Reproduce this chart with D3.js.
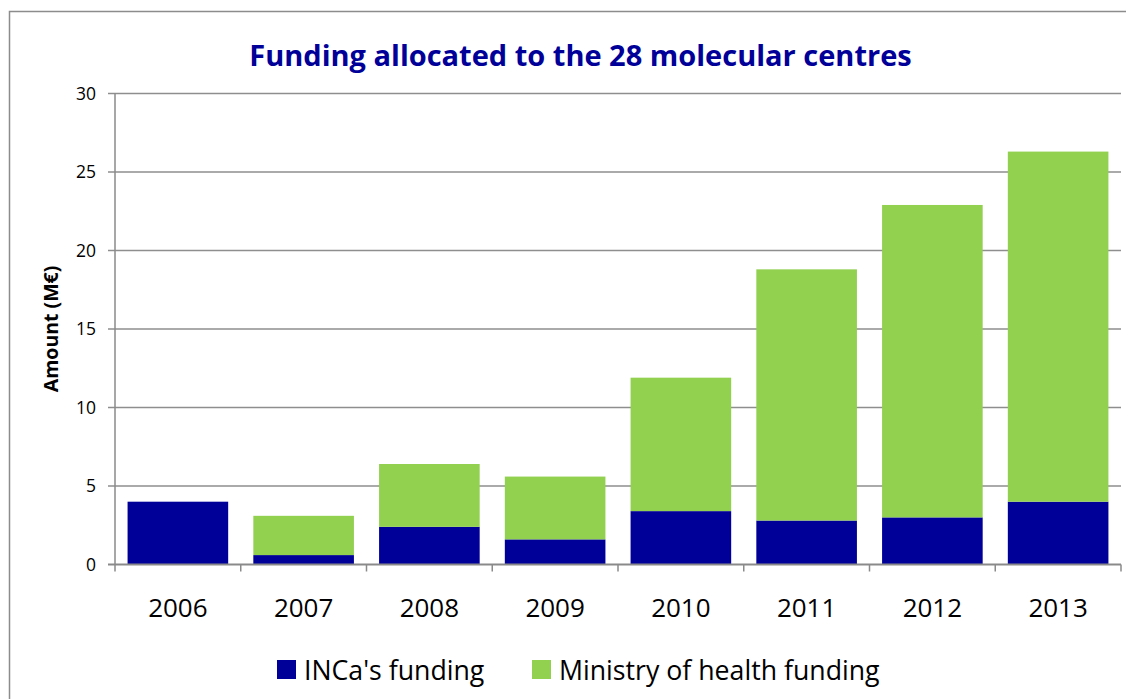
<!DOCTYPE html>
<html>
<head>
<meta charset="utf-8">
<script src="https://cdn.jsdelivr.net/npm/d3@7"></script>
<style>
body{margin:0;background:#fff;}
text{font-family:"Open Sans",sans-serif;}
</style>
</head>
<body>
<div id="root"></div>
<script>
// data (M€)
var years=['2006','2007','2008','2009','2010','2011','2012','2013'];
var incaFunding=[4.0,0.6,2.4,1.6,3.4,2.8,3.0,4.0];
var ministryFunding=[0,2.5,4.0,4.0,8.5,16.0,19.9,22.3];
var yTicks=[0,5,10,15,20,25,30];
var seriesNames=["INCa's funding","Ministry of health funding"];
var seriesColors=['#000099','#92D050'];

var width=1126, height=699;
var margin={t:93.5, r:5, b:134.5, l:115};

var svg=d3.select('#root').append('svg')
    .attr('width',width)
    .attr('height',height);

// outer frame (only top and left visible)
svg.append('path')
    .attr('d','M9.5,'+height+'V11.5H'+width)
    .attr('fill','none')
    .attr('stroke','#8c8c8c')
    .attr('stroke-width',1.5);

var rows=years.map(function(y,i){return {year:y,inca:incaFunding[i],ministry:ministryFunding[i]}});

var xScale=d3.scaleBand()
    .domain(years)
    .range([margin.l,width-margin.r])
    .paddingInner(0.2)
    .paddingOuter(0.1);

var yScale=d3.scaleLinear()
    .domain([0,30])
    .range([height-margin.b,margin.t]);

//gridlines
svg.append('g').selectAll('line')
    .data(yTicks.filter(function(d){return d>0}))
    .enter().append('line')
    .attr('x1',margin.l-7)
    .attr('x2',width-margin.r)
    .attr('y1',function(d){return yScale(d)})
    .attr('y2',function(d){return yScale(d)})
    .attr('stroke','#8e8e8e')
    .attr('stroke-width',1.5);

//y labels
svg.append('g').selectAll('text')
    .data(yTicks).enter().append('text')
    .attr('x',margin.l-19)
    .attr('y',function(d){return yScale(d)})
    .attr('dy','0.35em')
    .attr('text-anchor','end')
    .attr('font-size',17.5)
    .attr('fill','#000')
    .text(function(d){return d});

//stacked bars
var stack=d3.stack().keys(['inca','ministry']);
var stackData=stack(rows);

svg.append('g').selectAll('g')
    .data(stackData).enter().append('g')
    .attr('fill',function(d,i){return seriesColors[i]})
    .selectAll('rect').data(function(d){return d}).enter()
    .append('rect')
    .attr('x',function(d){return xScale(d.data.year)})
    .attr('y',function(d){return yScale(d[1])})
    .attr('width',xScale.bandwidth())
    .attr('height',function(d){return yScale(d[0])-yScale(d[1])});

//axes lines
var y0=yScale(0);
svg.append('line')
    .attr('x1',margin.l).attr('x2',margin.l)
    .attr('y1',margin.t).attr('y2',y0)
    .attr('stroke','#8a8a8a').attr('stroke-width',1.5);
svg.append('line')
    .attr('x1',margin.l-7).attr('x2',width-margin.r)
    .attr('y1',y0).attr('y2',y0)
    .attr('stroke','#8a8a8a').attr('stroke-width',2);

// x ticks at category boundaries
var step=xScale.step();
var bounds=d3.range(years.length+1).map(function(i){return margin.l+i*step});
svg.append('g').selectAll('line')
    .data(bounds).enter().append('line')
    .attr('x1',function(d){return d}).attr('x2',function(d){return d})
    .attr('y1',y0).attr('y2',y0+7)
    .attr('stroke','#8a8a8a').attr('stroke-width',1.5);

svg.append('g').selectAll('text')
    .data(years).enter().append('text')
    .attr('x',function(d){return xScale(d)+xScale.bandwidth()/2})
    .attr('y',617)
    .attr('text-anchor','middle')
    .attr('font-size',26)
    .attr('fill','#000')
    .text(function(d){return d});

//title
svg.append('text')
    .attr('x',580.5)
    .attr('y',66)
    .attr('text-anchor','middle')
    .attr('font-size',29)
    .attr('font-weight','bold')
    .attr('fill','#000099')
    .text('Funding allocated to the 28 molecular centres');

//y axis title
svg.append('text')
    .attr('transform','translate(51,'+((margin.t+y0)/2)+') rotate(-90)')
    .attr('text-anchor','middle')
    .attr('dy','0.35em')
    .attr('font-size',19.5)
    .attr('font-weight','bold')
    .attr('fill','#000')
    .text('Amount (M€)');

//legend
var legendX=[277,532];
var legend=svg.append('g').selectAll('g')
    .data(seriesNames).enter().append('g')
    .attr('transform',function(d,i){return 'translate('+legendX[i]+',660)'});
legend.append('rect')
    .attr('width',19).attr('height',19)
    .attr('fill',function(d,i){return seriesColors[i]});
legend.append('text')
    .attr('x',27)
    .attr('y',19.5)
    .attr('font-size',26.7)
    .attr('fill','#000')
    .text(function(d){return d});
</script>
</body>
</html>
